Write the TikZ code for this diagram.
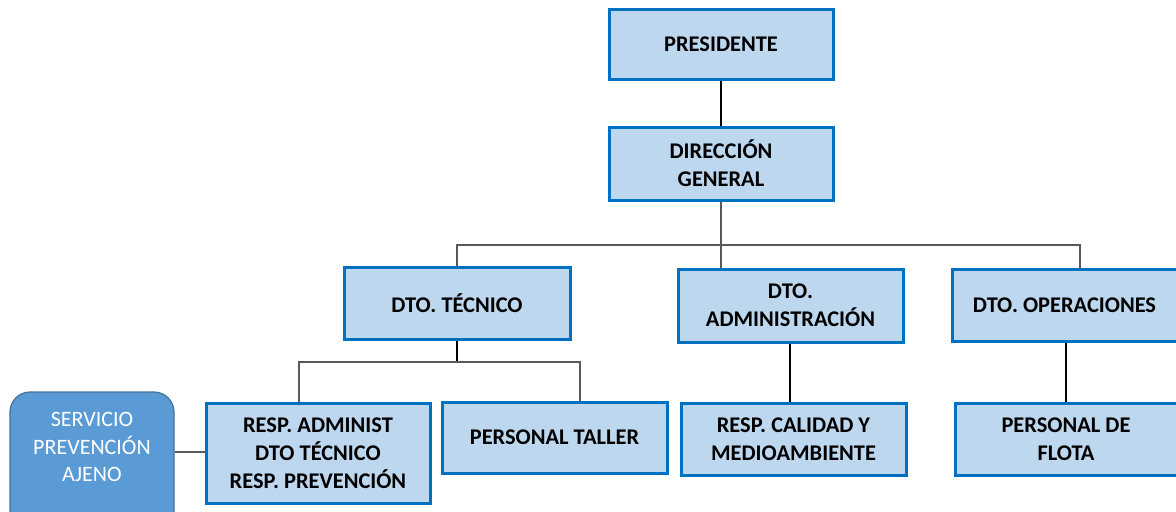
\documentclass[tikz,border=0pt]{standalone}
\usepackage{fontspec}
\setmainfont{Carlito}
\definecolor{boxfill}{HTML}{BDD7EE}
\definecolor{boxline}{HTML}{0070C0}
\definecolor{svcfill}{HTML}{5B9BD5}
\definecolor{svcline}{HTML}{41719C}
\definecolor{conn}{HTML}{595959}
\tikzset{
  orgbox/.style={draw=boxline, fill=boxfill, line width=1.5pt, align=center,
    font=\bfseries\fontsize{11.2}{14}\selectfont, inner sep=0pt},
  svcbox/.style={draw=svcline, fill=svcfill, line width=0.6pt, rounded corners=10pt},
  svctext/.style={text=white, align=center, font=\fontsize{11}{13.8}\selectfont},
  link/.style={draw=conn, line width=0.6pt},
  blink/.style={draw=black, line width=0.6pt}
}
\begin{document}
\begin{tikzpicture}[x=0.5pt,y=-0.5pt]
\useasboundingbox (0,0) rectangle (1176,511);
\begin{scope}
\clip (0,0) rectangle (1176,511);
\node[orgbox, minimum width=112pt, minimum height=35pt] (pres) at (721,44) {PRESIDENTE};
\node[orgbox, minimum width=112pt, minimum height=36.5pt] (dir) at (721,163.5) {DIRECCIÓN\\GENERAL};
\node[orgbox, minimum width=113pt, minimum height=36pt] (tec) at (457,303) {DTO. TÉCNICO};
\node[orgbox, minimum width=112.5pt, minimum height=36.5pt] (adm) at (790.5,305.5) {DTO.\\ADMINISTRACIÓN};
\node[orgbox, minimum width=112.5pt, minimum height=36pt] (ops) at (1064.5,305) {DTO. OPERACIONES};
\node[orgbox, minimum width=112pt, minimum height=50pt] (resp) at (318,453) {RESP. ADMINIST\\DTO TÉCNICO\\RESP. PREVENCIÓN};
\node[orgbox, minimum width=112.5pt, minimum height=35.5pt] (taller) at (554.5,437.5) {PERSONAL TALLER};
\node[orgbox, minimum width=112.5pt, minimum height=36pt] (cal) at (793.5,439) {RESP. CALIDAD Y\\MEDIOAMBIENTE};
\node[orgbox, minimum width=111pt, minimum height=36pt] (flota) at (1066,439) {PERSONAL DE\\FLOTA};
\node[svcbox, minimum width=82pt, minimum height=70pt] (svc) at (92,462) {};
\node[svctext] (svct) at (92,447) {SERVICIO\\PREVENCIÓN\\AJENO};
\end{scope}
% connectors
\coordinate (busl) at (457,245);
\coordinate (busr) at (1080,245);
\coordinate (opsin) at (1080,269);
\coordinate (subl) at (299,362);
\coordinate (subr) at (580,362);
\draw[blink] (pres.south) -- (dir.north);
\draw[link] (dir.south) -- (dir.south |- adm.north);
\draw[link] (tec.north) -- (busl) -- (busr) -- (opsin);
\draw[blink] (tec.south) -- (tec.south |- subl);
\draw[link] (resp.north -| subl) -- (subl) -- (subr) -- (taller.north -| subr);
\draw[blink] (adm.south -| 790,0) -- (cal.north -| 790,0);
\draw[blink] (ops.south -| flota.north) -- (flota.north);
\draw[link] (svc.east |- 0,452) -- (resp.west |- 0,452);
\end{tikzpicture}
\end{document}
